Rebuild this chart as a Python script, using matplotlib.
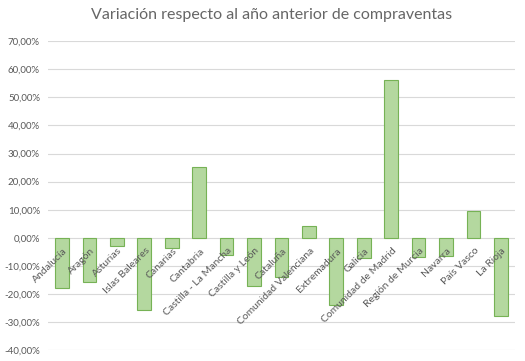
import matplotlib.pyplot as plt
from matplotlib.ticker import FuncFormatter

plt.rcParams['font.family'] = ['Lato', 'DejaVu Sans']

# Datos: variación respecto al año anterior (%)
regiones = ['Andalucía', 'Aragón', 'Asturias', 'Islas Baleares', 'Canarias', 'Cantabria',
            'Castilla - La Mancha', 'Castilla y León', 'Cataluña', 'Comunidad Valenciana',
            'Extremadura', 'Galicia', 'Comunidad de Madrid', 'Región de Murcia', 'Navarra',
            'País Vasco', 'La Rioja']
variacion = [-18.0, -15.8, -2.8, -25.8, -3.8, 25.2, -6.0, -17.3, -14.0, 4.3,
             -24.0, -7.2, 56.2, -6.8, -6.5, 9.4, -27.7]

gris = '#595959'

fig = plt.figure(figsize=(5.25, 3.61), dpi=100)
ax = fig.add_axes([0.092, 0.03, 0.888, 0.856])

x = range(len(regiones))
ax.bar(x, variacion, width=0.5, color='#b4d89f', edgecolor='#76b255', linewidth=0.8, zorder=2)

ax.set_ylim(-40, 70)
ax.set_yticks(range(-40, 71, 10))
ax.yaxis.set_major_formatter(FuncFormatter(lambda v, p: f'{v:.2f}%'.replace('.', ',')))
ax.set_xlim(-0.5, len(regiones) - 0.5)
ax.grid(axis='y', color='#d9d9d9', linewidth=0.8, zorder=0)
ax.set_xticks([])
for s in ax.spines.values():
    s.set_visible(False)
ax.tick_params(axis='y', length=0, labelsize=7, labelcolor=gris, pad=6)

# etiquetas de categoría junto al eje cero, giradas 45°
for i, nombre in enumerate(regiones):
    ax.text(i + 0.02, -3.0, nombre, rotation=45, ha='right', va='top',
            rotation_mode='anchor', fontsize=7.5, color=gris, zorder=3)

fig.suptitle('Variación respecto al año anterior de compraventas', x=0.518, y=0.978,
             fontsize=11.5, color='#666666')

fig.savefig('out.png', dpi=100)
